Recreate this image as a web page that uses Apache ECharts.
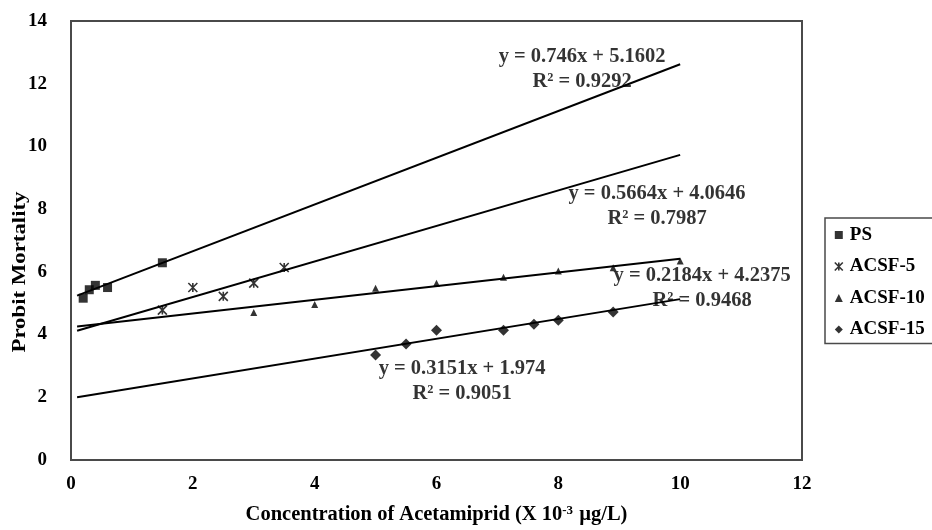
<!DOCTYPE html>
<html>
<head>
<meta charset="utf-8">
<script src="https://cdn.jsdelivr.net/npm/echarts@6/dist/echarts.min.js"></script>
<style>
html,body{margin:0;padding:0;background:#fff;}
#chart{width:932px;height:530px;}
</style>
</head>
<body>
<div id="chart"></div>
<script>
// ---- data ----
var seriesNames = ['PS', 'ACSF-5', 'ACSF-10', 'ACSF-15'];
var psX   = [0.2, 0.3, 0.4, 0.6, 1.5];
var psY   = [5.16, 5.43, 5.57, 5.50, 6.29];
var a5X   = [1.5, 2.0, 2.5, 3.0, 3.5];
var a5Y   = [4.78, 5.50, 5.22, 5.64, 6.14];
var a10X  = [3, 4, 5, 6, 7.1, 8, 8.9, 10];
var a10Y  = [4.70, 4.96, 5.48, 5.64, 5.83, 6.03, 6.13, 6.35];
var a15X  = [5, 5.5, 6, 7.1, 7.6, 8, 8.9];
var a15Y  = [3.35, 3.70, 4.14, 4.14, 4.33, 4.46, 4.72];
// trendline end points (x, y)
var trendPS  = [[0.1, 5.24], [10, 12.62]];
var trend5   = [[0.1, 4.12], [10, 9.73]];
var trend10  = [[0.1, 4.26], [10, 6.42]];
var trend15  = [[0.1, 2.00], [10, 5.13]];
var equations = [
  'y = 0.746x + 5.1602\nR² = 0.9292',
  'y = 0.5664x + 4.0646\nR² = 0.7987',
  'y = 0.2184x + 4.2375\nR² = 0.9468',
  'y = 0.3151x + 1.974\nR² = 0.9051'
];
var xTicks = [0, 2, 4, 6, 8, 10, 12];
var yTicks = [0, 2, 4, 6, 8, 10, 12, 14];

// ---- presentation ----
var FONT = '"Liberation Serif", "Times New Roman", serif';
var eqAnchors = [[8.39, 12.45], [9.62, 8.08], [10.36, 5.47], [6.42, 2.52]];
var starPath = 'path://M0,0 L10,10 M10,0 L0,10 M5,0 L5,10';

function zip(xs, ys) { return xs.map(function (x, i) { return [x, ys[i]]; }); }

var markers = [
  {sym: 'rect', size: 9, style: {color: '#000'}},
  {sym: starPath, size: 9, style: {color: '#000', borderColor: '#000', borderWidth: 1.6}},
  {sym: 'triangle', size: 7, style: {color: '#000'}},
  {sym: 'diamond', size: 11, style: {color: '#000'}}
];
var pts = [zip(psX, psY), zip(a5X, a5Y), zip(a10X, a10Y), zip(a15X, a15Y)];
var trends = [trendPS, trend5, trend10, trend15];

var series = [];
trends.forEach(function (t) {
  series.push({
    type: 'line', data: t, symbol: 'none', silent: true,
    lineStyle: {color: '#000', width: 2}, z: 2
  });
});
pts.forEach(function (p, i) {
  series.push({
    name: seriesNames[i], type: 'scatter', data: p,
    symbol: markers[i].sym, symbolSize: markers[i].size,
    itemStyle: markers[i].style, z: 3
  });
});
series.push({
  type: 'scatter', symbol: 'circle', symbolSize: 1, silent: true, z: 4,
  itemStyle: {color: 'rgba(0,0,0,0)'},
  data: eqAnchors.map(function (a, i) { return {value: a, label: {formatter: equations[i]}}; }),
  label: {
    show: true, position: 'inside', align: 'center', verticalAlign: 'middle',
    fontFamily: FONT, fontWeight: 'bold', fontSize: 20.5, lineHeight: 25, color: '#000'
  }
});

var chart = echarts.init(document.getElementById('chart'), null, {renderer: 'canvas'});
chart.setOption({
  animation: false,
  backgroundColor: '#fff',
  grid: {left: 71, top: 21, right: 130, bottom: 64, show: true, borderColor: '#4a4a4a', borderWidth: 2, backgroundColor: 'transparent'},
  xAxis: {
    type: 'value', min: xTicks[0], max: xTicks[xTicks.length - 1], interval: 2,
    axisLine: {show: false}, axisTick: {show: false}, splitLine: {show: false},
    axisLabel: {color: '#000', fontFamily: FONT, fontWeight: 'bold', fontSize: 19, margin: 15},
    name: 'Concentration of Acetamiprid (X 10{sup|-3} µg/L)',
    nameLocation: 'middle', nameGap: 44,
    nameTextStyle: {
      color: '#000', fontFamily: FONT, fontWeight: 'bold', fontSize: 20.5,
      rich: {sup: {fontFamily: FONT, fontWeight: 'bold', fontSize: 13, verticalAlign: 'top', padding: [0, 1, 8, 0], color: '#000'}}
    }
  },
  yAxis: {
    type: 'value', min: yTicks[0], max: yTicks[yTicks.length - 1], interval: 2,
    axisLine: {show: false}, axisTick: {show: false}, splitLine: {show: false},
    axisLabel: {color: '#000', fontFamily: FONT, fontWeight: 'bold', fontSize: 19, margin: 24}
  },
  graphic: [{
    type: 'text', x: 20, y: 272, rotation: Math.PI / 2, scaleX: 1.2,
    style: {text: 'Probit Mortality', fill: '#000', font: 'bold 19px ' + FONT, textAlign: 'center', textVerticalAlign: 'middle'}
  }],
  legend: {
    orient: 'vertical', left: 825, top: 218,
    padding: [7, 40, 4, 9], itemGap: 11.5, itemWidth: 8, itemHeight: 8,
    borderColor: '#4a4a4a', borderWidth: 1.5, backgroundColor: '#fff',
    textStyle: {color: '#000', fontFamily: FONT, fontWeight: 'bold', fontSize: 19, lineHeight: 20, padding: [0, 0, 0, 2]},
    data: seriesNames.map(function (n, i) {
      return {name: n, icon: markers[i].sym, itemStyle: markers[i].style};
    })
  },
  series: series
});
</script>
</body>
</html>
